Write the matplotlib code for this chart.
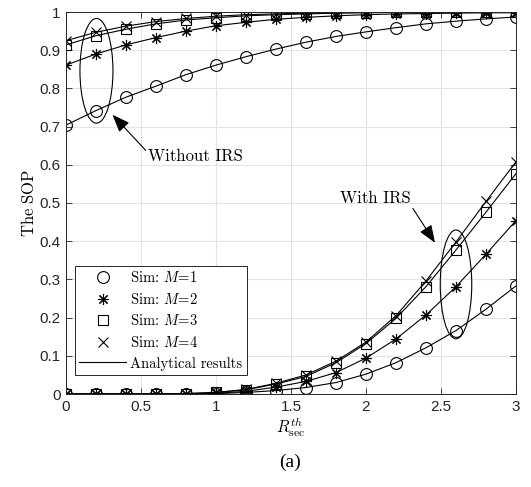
import numpy as np
import matplotlib
matplotlib.use('Agg')
import matplotlib.pyplot as plt
from matplotlib.patches import Ellipse

plt.rcParams['mathtext.fontset'] = 'cm'
plt.rcParams['font.family'] = ['Liberation Sans', 'DejaVu Sans']

# x axis: R_sec^th
r_th = [0.0, 0.2, 0.4, 0.6, 0.8, 1.0, 1.2, 1.4, 1.6, 1.8, 2.0, 2.2, 2.4, 2.6, 2.8, 3.0]

# without IRS
no_irs_m1 = [0.704, 0.742, 0.777, 0.806, 0.836, 0.861, 0.883, 0.903, 0.921, 0.936,
             0.948, 0.959, 0.969, 0.976, 0.982, 0.987]
no_irs_m2 = [0.861, 0.890, 0.914, 0.933, 0.950, 0.964, 0.973, 0.981, 0.986, 0.990,
             0.993, 0.995, 0.996, 0.997, 0.998, 0.998]
no_irs_m3 = [0.914, 0.938, 0.955, 0.969, 0.979, 0.985, 0.990, 0.993, 0.995, 0.997,
             0.998, 0.999, 0.999, 0.999, 1.000, 1.000]
no_irs_m4 = [0.925, 0.947, 0.963, 0.975, 0.983, 0.989, 0.993, 0.995, 0.997, 0.998,
             0.999, 0.999, 1.000, 1.000, 1.000, 1.000]

# with IRS
irs_m1 = [0.000, 0.000, 0.000, 0.000, 0.000, 0.001, 0.004, 0.009, 0.017, 0.030,
          0.052, 0.082, 0.121, 0.166, 0.222, 0.283]
irs_m2 = [0.000, 0.000, 0.000, 0.000, 0.000, 0.002, 0.007, 0.018, 0.033, 0.056,
          0.094, 0.144, 0.207, 0.281, 0.366, 0.454]
irs_m3 = [0.000, 0.000, 0.000, 0.000, 0.001, 0.004, 0.011, 0.026, 0.046, 0.082,
          0.132, 0.198, 0.281, 0.377, 0.476, 0.577]
irs_m4 = [0.000, 0.000, 0.000, 0.000, 0.001, 0.004, 0.012, 0.028, 0.050, 0.086,
          0.136, 0.205, 0.296, 0.398, 0.504, 0.608]

markers = ['o', (8, 2, 0), 's', 'x']
msizes = [8.5, 8, 7, 7]
labels = ['Sim: $M\\!=\\!%d$' % m for m in (1, 2, 3, 4)]

fig = plt.figure(figsize=(5.31, 4.87), dpi=100)
ax = fig.add_axes([66 / 531, 1 - 394 / 487, 450 / 531, 382 / 487])

for i, (a, b) in enumerate(zip([no_irs_m1, no_irs_m2, no_irs_m3, no_irs_m4],
                              [irs_m1, irs_m2, irs_m3, irs_m4])):
    ax.plot(r_th, a, color='k', lw=0.8)
    ax.plot(r_th, b, color='k', lw=0.8)
    ax.plot(r_th, a, ls='none', marker=markers[i], ms=msizes[i], mfc='none',
            mec='k', mew=0.8, label=labels[i])
    ax.plot(r_th, b, ls='none', marker=markers[i], ms=msizes[i], mfc='none',
            mec='k', mew=0.8)
ax.plot([], [], color='k', lw=0.8, label='Analytical results')

ax.set_xlim(0, 3)
ax.set_ylim(0, 1)
ax.set_xticks([0, 0.5, 1, 1.5, 2, 2.5, 3])
ax.set_xticklabels(['0', '0.5', '1', '1.5', '2', '2.5', '3'])
ax.set_yticks(np.arange(0, 1.01, 0.1))
ax.set_yticklabels(['0', '0.1', '0.2', '0.3', '0.4', '0.5', '0.6', '0.7', '0.8', '0.9', '1'])
ax.tick_params(direction='in', top=True, right=True, labelsize=11, length=4,
               width=0.6, colors='#262626', pad=4)
ax.grid(True, color='#e3e3e3', lw=0.8)
ax.set_axisbelow(True)
for s in ax.spines.values():
    s.set_color('#262626')
    s.set_linewidth(0.7)

ax.set_ylabel(r'$\mathrm{The\ SOP}$', fontsize=12, labelpad=2)
ax.set_xlabel(r'$R_{\mathrm{sec}}^{th}$', fontsize=12, labelpad=1)

leg = ax.legend(loc='lower left', bbox_to_anchor=(0.02, 0.05),
                prop={'family': 'cmr10', 'size': 10.5},
                frameon=True, fancybox=False, edgecolor='#262626', framealpha=1,
                handlelength=3.2, handletextpad=0.3, borderpad=0.3, labelspacing=0.45,
                borderaxespad=0)
leg.get_frame().set_linewidth(0.7)

# annotations
ax.add_patch(Ellipse((0.203, 0.846), 0.22, 0.274, fill=False, ec='k', lw=0.8))
ax.add_patch(Ellipse((2.60, 0.287), 0.21, 0.285, fill=False, ec='k', lw=0.8))
ax.annotate('Without IRS', xy=(0.31, 0.731), xytext=(0.55, 0.622),
            fontsize=12, va='center', ha='left', family='cmr10',
            arrowprops=dict(arrowstyle='-|>,head_length=0.9,head_width=0.35',
                            color='k', lw=0.8, shrinkA=0, shrinkB=0, relpos=(0, 0.7)))
ax.annotate('With IRS', xy=(2.46, 0.396), xytext=(1.83, 0.513),
            fontsize=12, va='center', ha='left', family='cmr10',
            arrowprops=dict(arrowstyle='-|>,head_length=0.9,head_width=0.35',
                            color='k', lw=0.8, shrinkA=0, shrinkB=0, relpos=(1.0, 0.0)))

fig.text(290 / 531, 1 - 462 / 487, '(a)', fontsize=14, ha='center', va='center',
         family=['Liberation Serif', 'DejaVu Serif'])

fig.savefig('out.png', dpi=100)
